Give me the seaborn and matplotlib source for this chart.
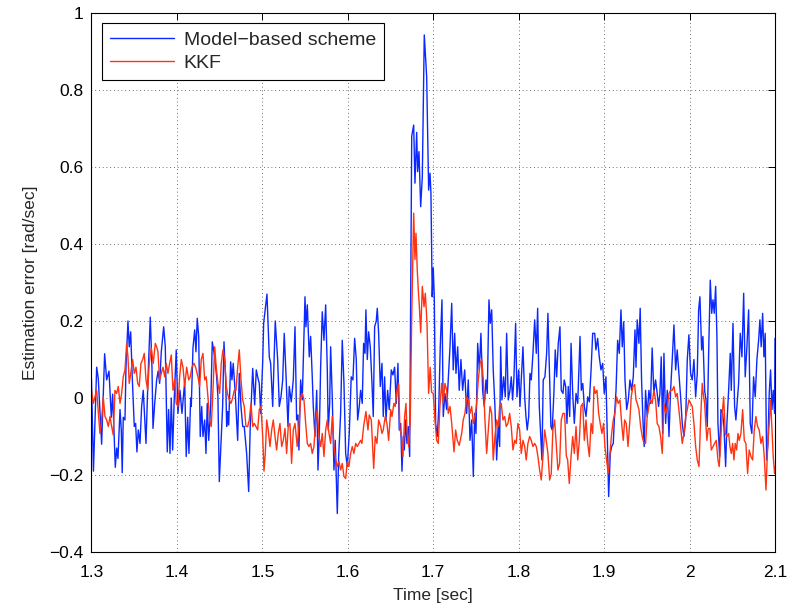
import matplotlib
matplotlib.use("Agg")
import matplotlib.pyplot as plt
import matplotlib.ticker as mticker
import seaborn as sns
import pandas as pd

# (time [s], error [rad/s])
model_pts = [
    (1.3000, 0.05), (1.3023, -0.19), (1.3061, 0.08), (1.3080, 0.05), (1.3119, -0.12),
    (1.3154, 0.115), (1.3178, 0.047), (1.3205, 0.07), (1.3232, -0.05), (1.3248, 0.01),
    (1.3279, -0.18), (1.3295, -0.13), (1.3310, -0.157), (1.3334, -0.03), (1.3349, -0.083),
    (1.3360, -0.194), (1.3372, -0.05), (1.3392, -0.057), (1.3404, 0.08), (1.3427, 0.2),
    (1.3442, 0.133), (1.3459, 0.172), (1.3477, 0.055), (1.3501, -0.074), (1.3517, -0.066),
    (1.3532, -0.14), (1.3548, -0.083), (1.3568, -0.118), (1.3587, -0.022), (1.3606, 0.02),
    (1.3638, -0.118), (1.3661, 0.047), (1.3688, 0.21), (1.3708, 0.08), (1.3720, -0.079),
    (1.3740, -0.014), (1.3763, 0.047), (1.3780, 0.07), (1.3798, 0.038), (1.3817, 0.12),
    (1.3845, 0.185), (1.3864, 0.133), (1.3887, -0.14), (1.3903, -0.03), (1.3919, -0.144),
    (1.3934, 0.0), (1.3950, -0.135), (1.3969, 0.0), (1.3992, 0.125), (1.4012, -0.04),
    (1.4036, 0.02), (1.4059, -0.04), (1.4091, 0.042), (1.4109, -0.152), (1.4126, -0.05),
    (1.4141, -0.144), (1.4161, 0.0), (1.4168, -0.022), (1.4188, 0.13), (1.4208, 0.177),
    (1.4223, 0.12), (1.4238, 0.207), (1.4255, 0.16), (1.4273, -0.1), (1.4290, -0.022),
    (1.4305, -0.1), (1.4325, -0.057), (1.4340, -0.144), (1.4355, -0.014), (1.4372, -0.11),
    (1.4395, -0.022), (1.4414, 0.146), (1.4442, 0.107), (1.4465, 0.055), (1.4480, 0.003),
    (1.4496, -0.217), (1.4519, -0.1), (1.4535, -0.022), (1.4551, 0.146), (1.4571, 0.047),
    (1.4582, -0.074), (1.4594, -0.035), (1.4606, -0.07), (1.4629, 0.094), (1.4644, 0.047),
    (1.4659, 0.09), (1.4683, 0.012), (1.4711, -0.11), (1.4730, 0.064), (1.4750, -0.022),
    (1.4770, -0.074), (1.4788, -0.074), (1.4816, -0.144), (1.4840, -0.243), (1.4858, -0.074),
    (1.4887, 0.077), (1.4910, -0.018), (1.4929, 0.073), (1.4945, 0.055), (1.4964, 0.038),
    (1.4980, -0.04), (1.5004, 0.094), (1.5015, 0.194), (1.5054, 0.27), (1.5081, 0.107),
    (1.5097, 0.09), (1.5121, -0.022), (1.5151, 0.2), (1.5179, 0.1), (1.5198, -0.022),
    (1.5218, 0.003), (1.5238, 0.047), (1.5256, 0.168), (1.5276, 0.064), (1.5300, -0.074),
    (1.5315, 0.03), (1.5338, -0.01), (1.5362, 0.047), (1.5382, 0.185), (1.5401, -0.057),
    (1.5417, -0.044), (1.5428, -0.135), (1.5448, 0.047), (1.5467, -0.005), (1.5487, 0.168),
    (1.5499, 0.263), (1.5510, 0.185), (1.5526, 0.242), (1.5549, 0.107), (1.5565, 0.16),
    (1.5584, 0.055), (1.5596, -0.022), (1.5616, -0.1), (1.5636, 0.02), (1.5651, -0.187),
    (1.5666, -0.1), (1.5682, 0.08), (1.5701, 0.224), (1.5721, 0.15), (1.5741, 0.242),
    (1.5760, 0.073), (1.5771, -0.083), (1.5788, -0.014), (1.5799, 0.133), (1.5818, 0.003),
    (1.5838, -0.187), (1.5853, -0.11), (1.5877, -0.3), (1.5893, -0.152), (1.5916, -0.04),
    (1.5935, 0.15), (1.5955, 0.038), (1.5975, -0.144), (1.5994, -0.178), (1.6017, -0.092),
    (1.6040, 0.055), (1.6060, 0.047), (1.6080, 0.155), (1.6099, 0.1), (1.6115, -0.057),
    (1.6134, -0.022), (1.6150, 0.02), (1.6169, -0.014), (1.6185, 0.142), (1.6201, 0.116),
    (1.6212, 0.229), (1.6228, 0.1), (1.6244, 0.172), (1.6263, 0.133), (1.6283, 0.038),
    (1.6298, -0.048), (1.6314, 0.185), (1.6333, 0.2), (1.6345, 0.233), (1.6361, 0.168),
    (1.6380, 0.03), (1.6400, 0.09), (1.6415, -0.048), (1.6431, 0.055), (1.6447, -0.057),
    (1.6466, 0.02), (1.6485, -0.03), (1.6509, 0.073), (1.6528, 0.06), (1.6548, 0.08),
    (1.6567, -0.014), (1.6587, 0.09), (1.6602, -0.083), (1.6619, -0.066), (1.6634, -0.19),
    (1.6649, -0.1), (1.6661, -0.135), (1.6677, -0.057), (1.6692, -0.118), (1.6707, -0.074),
    (1.6724, -0.152), (1.6748, 0.68), (1.6771, 0.709), (1.6786, 0.558), (1.6806, 0.69),
    (1.6817, 0.588), (1.6833, 0.64), (1.6853, 0.497), (1.6872, 0.575), (1.6895, 0.943),
    (1.6923, 0.835), (1.6946, 0.54), (1.6962, 0.584), (1.6973, 0.532), (1.6988, 0.263),
    (1.7000, 0.338), (1.7012, 0.263), (1.7028, -0.066), (1.7047, -0.1), (1.7064, -0.03),
    (1.7082, 0.133), (1.7102, 0.255), (1.7117, -0.048), (1.7137, 0.012), (1.7157, -0.03),
    (1.7176, 0.047), (1.7196, 0.133), (1.7216, 0.246), (1.7234, 0.073), (1.7251, 0.168),
    (1.7266, 0.064), (1.7286, 0.133), (1.7304, 0.02), (1.7324, 0.1), (1.7344, 0.02),
    (1.7368, 0.073), (1.7391, -0.04), (1.7410, 0.047), (1.7430, -0.11), (1.7450, -0.057),
    (1.7469, -0.204), (1.7485, -0.04), (1.7500, -0.092), (1.7520, 0.142), (1.7539, 0.073),
    (1.7558, 0.168), (1.7578, 0.02), (1.7597, -0.022), (1.7617, 0.047), (1.7632, 0.012),
    (1.7652, 0.255), (1.7667, 0.194), (1.7684, 0.229), (1.7702, 0.073), (1.7722, -0.022),
    (1.7742, -0.161), (1.7761, -0.066), (1.7777, -0.126), (1.7789, 0.133), (1.7804, -0.005),
    (1.7824, 0.055), (1.7843, 0.003), (1.7859, 0.168), (1.7878, -0.005), (1.7898, 0.02),
    (1.7913, 0.055), (1.7929, -0.005), (1.7945, 0.055), (1.7964, 0.194), (1.7980, 0.003),
    (1.8000, 0.073), (1.8015, -0.022), (1.8030, 0.047), (1.8050, 0.133), (1.8070, 0.003),
    (1.8085, -0.048), (1.8100, -0.083), (1.8117, -0.048), (1.8132, 0.064), (1.8147, 0.047),
    (1.8167, 0.116), (1.8187, 0.203), (1.8206, 0.116), (1.8222, 0.233), (1.8241, -0.022),
    (1.8257, -0.092), (1.8272, -0.161), (1.8287, 0.047), (1.8307, 0.055), (1.8327, 0.116),
    (1.8342, 0.22), (1.8362, 0.047), (1.8377, -0.074), (1.8392, -0.083), (1.8412, 0.012),
    (1.8428, 0.125), (1.8444, 0.055), (1.8463, 0.142), (1.8483, 0.185), (1.8498, 0.02),
    (1.8518, 0.012), (1.8533, 0.047), (1.8550, 0.03), (1.8565, -0.066), (1.8580, 0.03),
    (1.8597, -0.048), (1.8613, 0.142), (1.8632, 0.012), (1.8651, -0.066), (1.8671, 0.012),
    (1.8691, -0.014), (1.8718, 0.16), (1.8733, 0.02), (1.8750, 0.038), (1.8768, -0.022),
    (1.8788, -0.048), (1.8808, 0.003), (1.8827, -0.01), (1.8847, 0.073), (1.8866, 0.168),
    (1.8890, 0.168), (1.8904, 0.125), (1.8924, 0.155), (1.8943, 0.107), (1.8963, 0.073),
    (1.8983, 0.09), (1.9001, 0.012), (1.9021, 0.055), (1.9037, -0.1), (1.9053, -0.256),
    (1.9072, -0.144), (1.9088, -0.126), (1.9107, -0.118), (1.9123, -0.04), (1.9139, 0.02),
    (1.9158, 0.15), (1.9177, 0.116), (1.9197, 0.229), (1.9212, 0.133), (1.9229, 0.198),
    (1.9244, 0.047), (1.9264, -0.03), (1.9283, -0.005), (1.9302, 0.047), (1.9322, 0.02),
    (1.9341, 0.055), (1.9361, 0.177), (1.9373, 0.08), (1.9387, 0.203), (1.9407, 0.142),
    (1.9422, 0.233), (1.9438, 0.047), (1.9454, -0.057), (1.9469, -0.126), (1.9485, 0.02),
    (1.9504, -0.048), (1.9524, 0.02), (1.9543, -0.014), (1.9562, 0.13), (1.9582, 0.012),
    (1.9602, 0.047), (1.9621, 0.012), (1.9637, -0.022), (1.9653, 0.012), (1.9668, 0.107),
    (1.9685, -0.092), (1.9700, 0.116), (1.9720, -0.066), (1.9739, 0.02), (1.9759, -0.1),
    (1.9778, 0.02), (1.9797, 0.1), (1.9817, 0.19), (1.9837, 0.073), (1.9855, 0.125),
    (1.9875, 0.064), (1.9895, 0.003), (1.9914, -0.066), (1.9934, -0.1), (1.9954, -0.057),
    (1.9973, 0.1), (1.9992, 0.164), (2.0012, 0.064), (2.0031, 0.047), (2.0051, 0.1),
    (2.0071, 0.003), (2.0090, 0.064), (2.0106, 0.229), (2.0121, 0.263), (2.0141, 0.125),
    (2.0156, 0.16), (2.0176, 0.02), (2.0192, -0.005), (2.0207, -0.074), (2.0223, 0.116),
    (2.0242, 0.306), (2.0259, 0.22), (2.0274, 0.255), (2.0289, 0.22), (2.0305, 0.29),
    (2.0320, 0.16), (2.0332, -0.066), (2.0352, -0.152), (2.0367, -0.03), (2.0387, -0.04),
    (2.0402, -0.074), (2.0422, -0.178), (2.0437, -0.066), (2.0457, 0.02), (2.0476, 0.116),
    (2.0488, 0.02), (2.0508, 0.194), (2.0527, -0.022), (2.0542, -0.057), (2.0554, -0.022),
    (2.0574, 0.038), (2.0593, 0.168), (2.0613, 0.107), (2.0633, 0.272), (2.0651, 0.055),
    (2.0671, 0.133), (2.0691, 0.229), (2.0710, -0.066), (2.0729, -0.092), (2.0749, 0.055),
    (2.0768, 0.003), (2.0788, 0.1), (2.0808, 0.15), (2.0823, 0.203), (2.0838, 0.133),
    (2.0855, 0.22), (2.0870, 0.107), (2.0885, 0.168), (2.0902, -0.161), (2.0917, -0.118),
    (2.0932, 0.012), (2.0948, 0.073), (2.0964, -0.03), (2.0979, 0.02), (2.0995, -0.04),
    (2.1000, 0.155),
]

kkf_pts = [
    (1.3000, 0.02), (1.3021, -0.014), (1.3041, 0.003), (1.3061, 0.02), (1.3080, -0.035),
    (1.3099, -0.092), (1.3119, -0.057), (1.3138, 0.003), (1.3158, -0.048), (1.3178, -0.057),
    (1.3197, -0.074), (1.3217, -0.048), (1.3236, -0.074), (1.3255, -0.096), (1.3275, 0.02),
    (1.3295, 0.012), (1.3314, 0.03), (1.3334, -0.014), (1.3353, 0.012), (1.3372, 0.055),
    (1.3392, 0.073), (1.3412, 0.142), (1.3427, 0.107), (1.3442, 0.038), (1.3462, 0.068),
    (1.3482, 0.1), (1.3501, 0.064), (1.3521, 0.08), (1.3541, 0.038), (1.3559, 0.03),
    (1.3579, 0.09), (1.3599, 0.1), (1.3618, 0.116), (1.3638, 0.047), (1.3658, 0.02),
    (1.3676, 0.09), (1.3700, 0.13), (1.3723, 0.09), (1.3747, 0.142), (1.3763, 0.133),
    (1.3778, 0.12), (1.3798, 0.047), (1.3817, 0.064), (1.3837, 0.08), (1.3857, 0.055),
    (1.3875, 0.09), (1.3895, 0.064), (1.3915, 0.09), (1.3934, 0.112), (1.3954, 0.02),
    (1.3974, 0.047), (1.3992, -0.014), (1.4012, -0.022), (1.4032, 0.055), (1.4051, 0.1),
    (1.4071, 0.08), (1.4091, 0.03), (1.4114, 0.08), (1.4138, 0.047), (1.4156, 0.055),
    (1.4176, 0.08), (1.4200, 0.09), (1.4219, 0.08), (1.4246, 0.055), (1.4266, 0.03),
    (1.4285, 0.1), (1.4305, 0.116), (1.4325, 0.047), (1.4343, 0.055), (1.4363, 0.003),
    (1.4383, -0.057), (1.4402, -0.074), (1.4422, 0.02), (1.4442, 0.133), (1.4460, 0.08),
    (1.4480, 0.038), (1.4500, 0.012), (1.4519, 0.09), (1.4539, 0.125), (1.4559, 0.1),
    (1.4578, 0.03), (1.4594, 0.01), (1.4613, -0.005), (1.4633, -0.014), (1.4652, 0.0),
    (1.4671, 0.02), (1.4691, 0.02), (1.4711, 0.08), (1.4730, 0.125), (1.4750, 0.047),
    (1.4770, -0.005), (1.4788, -0.022), (1.4808, -0.074), (1.4828, -0.074), (1.4847, -0.057),
    (1.4867, -0.014), (1.4887, -0.074), (1.4905, -0.066), (1.4925, -0.074), (1.4945, -0.083),
    (1.4964, -0.03), (1.4984, -0.022), (1.5004, -0.1), (1.5019, -0.19), (1.5034, -0.144),
    (1.5051, -0.057), (1.5069, -0.083), (1.5089, -0.126), (1.5109, -0.083), (1.5128, -0.057),
    (1.5148, -0.1), (1.5167, -0.135), (1.5186, -0.092), (1.5206, -0.066), (1.5226, -0.126),
    (1.5245, -0.11), (1.5265, -0.079), (1.5284, -0.144), (1.5303, -0.074), (1.5323, -0.066),
    (1.5342, -0.17), (1.5362, -0.083), (1.5382, -0.066), (1.5408, -0.126), (1.5428, -0.074),
    (1.5448, 0.003), (1.5467, 0.012), (1.5487, -0.005), (1.5507, -0.066), (1.5526, -0.118),
    (1.5545, -0.126), (1.5565, -0.118), (1.5584, -0.144), (1.5604, -0.126), (1.5624, -0.057),
    (1.5643, -0.03), (1.5663, -0.1), (1.5682, -0.126), (1.5701, -0.092), (1.5721, -0.152),
    (1.5741, -0.083), (1.5760, -0.057), (1.5780, -0.092), (1.5799, -0.118), (1.5818, -0.048),
    (1.5838, -0.126), (1.5858, -0.161), (1.5877, -0.178), (1.5897, -0.165), (1.5916, -0.187),
    (1.5935, -0.17), (1.5955, -0.204), (1.5975, -0.209), (1.5994, -0.165), (1.6013, -0.178),
    (1.6033, -0.144), (1.6052, -0.126), (1.6072, -0.144), (1.6092, -0.118), (1.6111, -0.126),
    (1.6131, -0.118), (1.6150, -0.11), (1.6165, -0.118), (1.6185, -0.074), (1.6212, -0.035),
    (1.6236, -0.083), (1.6251, -0.044), (1.6275, -0.057), (1.6303, -0.183), (1.6321, -0.1),
    (1.6341, -0.118), (1.6361, -0.057), (1.6385, -0.074), (1.6400, -0.092), (1.6415, -0.083),
    (1.6438, -0.048), (1.6458, -0.066), (1.6478, -0.11), (1.6502, -0.03), (1.6517, -0.048),
    (1.6540, -0.014), (1.6555, -0.022), (1.6575, 0.02), (1.6595, 0.038), (1.6610, -0.083),
    (1.6626, -0.092), (1.6645, -0.152), (1.6665, -0.048), (1.6681, -0.014), (1.6692, -0.083),
    (1.6712, -0.126), (1.6731, -0.057), (1.6748, 0.21), (1.6759, 0.34), (1.6771, 0.48),
    (1.6786, 0.36), (1.6798, 0.428), (1.6813, 0.332), (1.6825, 0.28), (1.6837, 0.24),
    (1.6853, 0.17), (1.6872, 0.29), (1.6892, 0.237), (1.6907, 0.272), (1.6927, 0.194),
    (1.6946, 0.012), (1.6964, 0.08), (1.6981, 0.015), (1.7000, 0.012), (1.7020, -0.057),
    (1.7040, -0.11), (1.7059, -0.118), (1.7078, -0.022), (1.7098, 0.038), (1.7117, -0.014),
    (1.7137, 0.038), (1.7157, 0.02), (1.7176, -0.04), (1.7196, -0.022), (1.7216, -0.066),
    (1.7243, -0.14), (1.7262, -0.083), (1.7281, -0.11), (1.7304, -0.123), (1.7333, -0.092),
    (1.7351, -0.057), (1.7371, -0.04), (1.7391, 0.003), (1.7410, -0.005), (1.7430, -0.04),
    (1.7450, -0.022), (1.7469, -0.066), (1.7489, -0.048), (1.7508, -0.014), (1.7527, 0.047),
    (1.7547, 0.09), (1.7567, 0.1), (1.7586, 0.047), (1.7605, -0.057), (1.7625, -0.144),
    (1.7644, -0.083), (1.7664, -0.022), (1.7684, -0.04), (1.7702, -0.161), (1.7722, -0.1),
    (1.7742, -0.057), (1.7761, -0.074), (1.7777, -0.022), (1.7796, -0.014), (1.7816, -0.057),
    (1.7836, -0.048), (1.7854, -0.074), (1.7874, -0.066), (1.7894, -0.04), (1.7913, -0.074),
    (1.7933, -0.135), (1.7953, -0.11), (1.7971, -0.118), (1.7991, -0.066), (1.8011, -0.083),
    (1.8030, -0.144), (1.8050, -0.11), (1.8070, -0.126), (1.8088, -0.161), (1.8108, -0.118),
    (1.8128, -0.1), (1.8147, -0.11), (1.8167, -0.126), (1.8187, -0.118), (1.8206, -0.126),
    (1.8225, -0.152), (1.8245, -0.187), (1.8264, -0.213), (1.8284, -0.152), (1.8304, -0.083),
    (1.8322, -0.11), (1.8342, -0.144), (1.8362, -0.213), (1.8381, -0.196), (1.8400, -0.083),
    (1.8420, -0.057), (1.8439, -0.118), (1.8459, -0.187), (1.8479, -0.17), (1.8498, -0.057),
    (1.8518, -0.04), (1.8538, -0.04), (1.8557, -0.15), (1.8573, -0.161), (1.8592, -0.222),
    (1.8613, -0.152), (1.8632, -0.1), (1.8651, -0.144), (1.8671, -0.074), (1.8691, -0.161),
    (1.8710, -0.11), (1.8729, -0.022), (1.8750, -0.014), (1.8768, -0.11), (1.8788, -0.057),
    (1.8808, -0.118), (1.8827, -0.152), (1.8847, -0.066), (1.8866, -0.092), (1.8881, 0.03),
    (1.8896, 0.012), (1.8916, 0.02), (1.8936, -0.04), (1.8954, -0.066), (1.8974, -0.092),
    (1.8994, -0.066), (1.9009, -0.126), (1.9029, -0.161), (1.9048, -0.196), (1.9068, -0.144),
    (1.9088, -0.092), (1.9107, -0.057), (1.9126, -0.04), (1.9146, 0.003), (1.9165, -0.014),
    (1.9185, -0.005), (1.9205, -0.066), (1.9224, -0.11), (1.9240, -0.057), (1.9259, -0.066),
    (1.9279, -0.126), (1.9299, -0.066), (1.9317, 0.003), (1.9337, 0.03), (1.9357, 0.035),
    (1.9373, -0.005), (1.9387, -0.014), (1.9407, -0.03), (1.9427, -0.074), (1.9446, -0.1),
    (1.9466, -0.118), (1.9485, -0.118), (1.9504, -0.048), (1.9524, -0.022), (1.9543, -0.005),
    (1.9562, -0.014), (1.9582, 0.02), (1.9602, -0.005), (1.9621, -0.066), (1.9641, -0.074),
    (1.9661, -0.1), (1.9680, -0.144), (1.9700, -0.014), (1.9720, -0.04), (1.9739, -0.022),
    (1.9759, 0.012), (1.9778, 0.02), (1.9797, 0.02), (1.9817, 0.03), (1.9837, 0.003),
    (1.9855, 0.012), (1.9875, -0.03), (1.9895, -0.074), (1.9914, -0.118), (1.9934, -0.092),
    (1.9954, -0.048), (1.9973, -0.03), (1.9992, -0.005), (2.0012, -0.014), (2.0031, -0.022),
    (2.0051, -0.066), (2.0071, -0.126), (2.0090, -0.161), (2.0110, -0.178), (2.0129, -0.057),
    (2.0148, 0.038), (2.0160, 0.012), (2.0176, -0.014), (2.0192, -0.074), (2.0203, -0.11),
    (2.0218, -0.079), (2.0238, -0.079), (2.0254, -0.135), (2.0274, -0.126), (2.0293, -0.118),
    (2.0312, -0.11), (2.0332, -0.161), (2.0347, -0.178), (2.0363, -0.118), (2.0379, -0.048),
    (2.0399, 0.003), (2.0418, -0.092), (2.0437, -0.1), (2.0457, -0.092), (2.0472, -0.126),
    (2.0488, -0.144), (2.0504, -0.118), (2.0519, -0.161), (2.0534, -0.118), (2.0551, -0.135),
    (2.0566, -0.092), (2.0581, -0.11), (2.0601, -0.092), (2.0621, -0.03), (2.0640, -0.11),
    (2.0659, -0.118), (2.0679, -0.196), (2.0698, -0.135), (2.0718, -0.152), (2.0738, -0.161),
    (2.0757, -0.083), (2.0776, -0.048), (2.0796, -0.074), (2.0815, -0.083), (2.0835, -0.118),
    (2.0855, -0.1), (2.0874, -0.152), (2.0894, -0.239), (2.0914, -0.126), (2.0932, -0.066),
    (2.0948, -0.005), (2.0964, -0.083), (2.0979, -0.152), (2.0995, -0.196), (2.1000, -0.178),
]

series_names = ["Model\u2212based scheme", "KKF"]
series_colors = ["#0a28ff", "#ff3311"]
x_ticks = [1.3, 1.4, 1.5, 1.6, 1.7, 1.8, 1.9, 2.0, 2.1]
y_ticks = [-0.4, -0.2, 0, 0.2, 0.4, 0.6, 0.8, 1.0]

model_df = pd.DataFrame(model_pts, columns=["t", "err"])
kkf_df = pd.DataFrame(kkf_pts, columns=["t", "err"])

sns.set_style("white")
plt.rcParams["font.family"] = ["Liberation Sans", "DejaVu Sans"]
plt.rcParams["axes.unicode_minus"] = True

fig = plt.figure(figsize=(7.94, 6.06), dpi=100)
ax = fig.add_axes([0.1152, 0.0891, 0.8609, 0.8894])

for df, name, col in zip([model_df, kkf_df], series_names, series_colors):
    sns.lineplot(data=df, x="t", y="err", ax=ax, color=col, label=name,
                 linewidth=1.0, estimator=None, sort=False)

ax.set_xlim(1.3, 2.1)
ax.set_ylim(-0.4, 1.0)
ax.set_xticks(x_ticks)
ax.set_yticks(y_ticks)
fmt = mticker.FuncFormatter(lambda v, p: ("%g" % round(v, 3)).replace("-", "\u2212"))
ax.xaxis.set_major_formatter(fmt)
ax.yaxis.set_major_formatter(fmt)

ax.grid(True, color="0.25", linestyle=(0, (1, 3.5)), linewidth=0.6)
ax.tick_params(direction="in", length=5, width=0.7, top=True, right=True,
               labelsize=12.5, colors="black", pad=6)
ax.tick_params(axis="x", pad=9)
for s in ax.spines.values():
    s.set_color("black")
    s.set_linewidth(0.8)

ax.set_xlabel("Time [sec]", fontsize=12.5, labelpad=6)
ax.set_ylabel("Estimation error [rad/sec]", fontsize=12.5, labelpad=8)

leg = ax.legend(loc="upper left", bbox_to_anchor=(0.0154, 0.981), borderaxespad=0,
                fontsize=14, handlelength=3.3, frameon=True, fancybox=False,
                framealpha=1, edgecolor="black", borderpad=0.4, labelspacing=0.3,
                handletextpad=0.5)
leg.get_frame().set_linewidth(0.8)

fig.savefig("out.png", dpi=100)
